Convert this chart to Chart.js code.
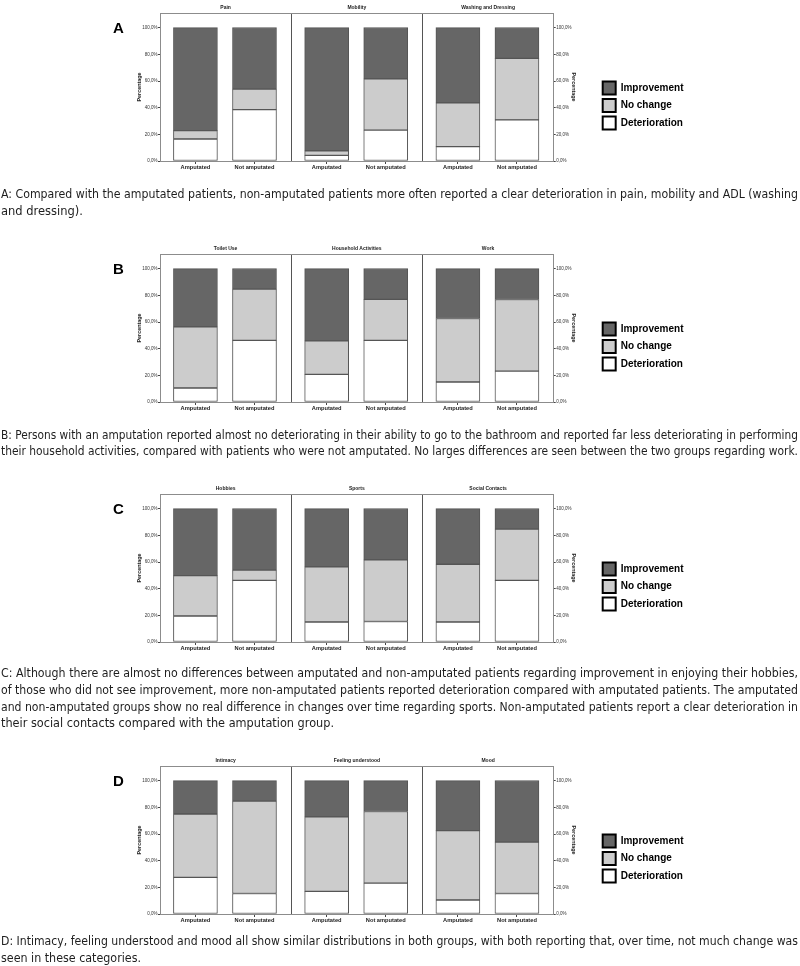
<!DOCTYPE html>
<html lang="en">
<head>
<meta charset="utf-8">
<title>Change over time: amputated vs not amputated patients</title>
<script src="https://cdn.jsdelivr.net/npm/chart.js@4.4.1/dist/chart.umd.min.js"></script>
<style>
  html, body { margin: 0; padding: 0; background: #fff; }
  body { position: relative; width: 800px; height: 966px; overflow: hidden; }
  .panel { position: absolute; left: 0; width: 800px; z-index: 1; }
  .letter { position: absolute; left: 113px; font: bold 15px "Liberation Sans", Arial, sans-serif; line-height: 15px; color: #000; z-index: 3; }
  .cap { position: absolute; left: 1px; white-space: nowrap; font: 12px "DejaVu Sans", Verdana, sans-serif; line-height: 14px; color: #1e1e1e; transform-origin: 0 50%; z-index: 2; }
</style>
</head>
<body>
<script>
// ---------------- data ----------------
const GROUPS = ['Amputated', 'Not amputated'];
const SERIES = ['Deterioration', 'No change', 'Improvement'];
const Y_TICKS = [0, 20, 40, 60, 80, 100];

// order inside each array: facet1 Amputated, facet1 Not amputated, facet2 ..., facet3 ...
const A_FACETS = ['Pain', 'Mobility', 'Washing and Dressing'];
const A_DETERIORATION = [16.5, 38.5, 4.2, 23.1, 10.8, 30.8];
const A_NO_CHANGE     = [6.3, 15.4, 3.5, 38.5, 32.8, 46.2];
const A_IMPROVEMENT   = [77.2, 46.2, 92.3, 38.5, 56.4, 23.1];

const B_FACETS = ['Toilet Use', 'Household Activities', 'Work'];
const B_DETERIORATION = [10.5, 46.2, 20.7, 46.2, 15.0, 23.1];
const B_NO_CHANGE     = [45.9, 38.5, 25.2, 30.8, 47.6, 53.8];
const B_IMPROVEMENT   = [43.6, 15.4, 54.1, 23.1, 37.4, 23.1];

const C_FACETS = ['Hobbies', 'Sports', 'Social Contacts'];
const C_DETERIORATION = [19.5, 46.2, 15.0, 15.4, 15.0, 46.2];
const C_NO_CHANGE     = [30.3, 7.7, 41.3, 46.2, 43.3, 38.5];
const C_IMPROVEMENT   = [50.2, 46.2, 43.7, 38.5, 41.7, 15.4];

const D_FACETS = ['Intimacy', 'Feeling understood', 'Mood'];
const D_DETERIORATION = [27.5, 15.4, 17.0, 23.1, 10.5, 15.4];
const D_NO_CHANGE     = [47.5, 69.2, 55.8, 53.8, 52.0, 38.5];
const D_IMPROVEMENT   = [25.0, 15.4, 27.2, 23.1, 37.5, 46.2];

const CAPTION_A = [
  'A: Compared with the amputated patients, non-amputated patients more often reported a clear deterioration in pain, mobility and ADL (washing',
  'and dressing).'
];
const CAPTION_B = [
  'B: Persons with an amputation reported almost no deteriorating in their ability to go to the bathroom and reported far less deteriorating in performing',
  'their household activities, compared with patients who were not amputated. No larges differences are seen between the two groups regarding work.'
];
const CAPTION_C = [
  'C: Although there are almost no differences between amputated and non-amputated patients regarding improvement in enjoying their hobbies,',
  'of those who did not see improvement, more non-amputated patients reported deterioration compared with amputated patients. The amputated',
  'and non-amputated groups show no real difference in changes over time regarding sports. Non-amputated patients report a clear deterioration in',
  'their social contacts compared with the amputation group.'
];
const CAPTION_D = [
  'D: Intimacy, feeling understood and mood all show similar distributions in both groups, with both reporting that, over time, not much change was',
  'seen in these categories.'
];

// ---------------- layout / style ----------------
const PANEL_TOPS = [13, 254, 494, 766];
const CAPTION_Y = [[194, 211], [435, 451], [673, 690, 707, 723], [941, 958]];
const CAPTION_W = [[797, 82], [797, 797], [797, 797, 797, 333], [797, 140]];
const BAR_OFFSETS = [0.27, 0.72];
const FILLS = ['#ffffff', '#cccccc', '#666666'];
const AREA_LEFT = 160, AREA_RIGHT = 554, CANVAS_H = 211, AREA_TOP = 13, AREA_BOTTOM = 161;
const FRAME = '#8c8c8c';

Chart.defaults.font.family = '"Liberation Sans", Arial, Helvetica, sans-serif';
Chart.defaults.color = '#222';

function near(a, b) { return Math.abs(a - b) < 1e-6; }
function groupAt(v) {
  const f = v - Math.floor(v);
  for (let g = 0; g < BAR_OFFSETS.length; g++) if (near(f, BAR_OFFSETS[g])) return g;
  return -1;
}
function pctLabel(v) { return Number(v).toFixed(1).replace('.', ',') + '%'; }

function build(idx, letter, facets, series) {
  const top = PANEL_TOPS[idx];
  const wrap = document.createElement('div');
  wrap.className = 'panel';
  wrap.style.top = (top - AREA_TOP) + 'px';
  wrap.style.height = CANVAS_H + 'px';
  const cv = document.createElement('canvas');
  cv.width = 800; cv.height = CANVAS_H;
  cv.style.width = '800px'; cv.style.height = CANVAS_H + 'px';
  wrap.appendChild(cv);
  document.body.appendChild(wrap);

  const L = document.createElement('div');
  L.className = 'letter';
  L.textContent = letter;
  L.style.top = (top + 7) + 'px';
  document.body.appendChild(L);

  const nF = facets.length;
  const xTicks = [];
  facets.forEach((f, k) => { xTicks.push(k, k + BAR_OFFSETS[0], k + BAR_OFFSETS[1]); });
  xTicks.push(nF);

  const datasets = series.map((vals, s) => ({
    label: SERIES[s],
    data: vals.map((v, i) => ({ x: Math.floor(i / 2) + BAR_OFFSETS[i % 2], y: v })),
    backgroundColor: FILLS[s],
    borderColor: '#555',
    borderWidth: 1,
    borderSkipped: false,
    barThickness: 44,
    stack: 'all'
  }));

  const yAxis = (pos) => ({
    type: 'linear', position: pos, min: 0, max: 111, stacked: pos === 'left',
    afterBuildTicks: s => { s.ticks = Y_TICKS.map(v => ({ value: v })); },
    afterFit: s => { s.width = pos === 'left' ? 30 : 44.5; },
    ticks: { callback: pctLabel, font: { size: 4.5 }, padding: 0.5, color: '#333' },
    grid: { drawOnChartArea: false, tickLength: 2, color: '#444' },
    border: { color: FRAME, width: 1 },
    title: {
      display: true, text: 'Percentage', color: '#222',
      font: { size: 5.4, weight: 'bold' },
      padding: pos === 'left' ? { top: 6.2, bottom: 0 } : { top: 21.2, bottom: 0 }
    }
  });

  const chart = new Chart(cv, {
    type: 'bar',
    data: { datasets },
    options: {
      responsive: false,
      animation: false,
      events: [],
      layout: { padding: { left: 130, right: 110, top: 0, bottom: 0 } },
      scales: {
        x: {
          type: 'linear', position: 'bottom', min: 0, max: nF, offset: false,
          afterBuildTicks: s => { s.ticks = xTicks.map(v => ({ value: v })); },
          afterFit: s => { s.height = CANVAS_H - AREA_BOTTOM; },
          ticks: {
            autoSkip: false, maxRotation: 0, minRotation: 0, padding: 0.5,
            font: { size: 5.7, weight: 'bold' }, color: '#222',
            callback: v => { const g = groupAt(v); return g < 0 ? '' : GROUPS[g]; }
          },
          grid: {
            offset: false, lineWidth: 1, tickLength: 3,
            color: c => (c.tick && c.tick.value > 0 && c.tick.value < nF && near(c.tick.value, Math.round(c.tick.value))) ? '#555' : 'rgba(0,0,0,0)',
            tickColor: c => (c.tick && groupAt(c.tick.value) >= 0) ? '#444' : 'rgba(0,0,0,0)'
          },
          border: { color: FRAME, width: 1 }
        },
        x2: {
          type: 'linear', position: 'top', min: 0, max: nF, offset: false,
          afterBuildTicks: s => { s.ticks = facets.map((f, k) => ({ value: k + 0.5 })); },
          afterFit: s => { s.height = AREA_TOP; },
          ticks: {
            autoSkip: false, maxRotation: 0, minRotation: 0, padding: 2.5,
            font: { size: 5, weight: 'bold' }, color: '#222',
            callback: v => facets[Math.floor(v)]
          },
          grid: { display: false, drawTicks: false, offset: false },
          border: { display: true, color: FRAME, width: 1 }
        },
        y: yAxis('left'),
        y2: yAxis('right')
      },
      plugins: {
        tooltip: { enabled: false },
        title: { display: false },
        legend: {
          position: 'right', align: 'center', reverse: true,
          labels: {
            boxWidth: 13, boxHeight: 13, padding: 4.5, color: '#000',
            font: { size: 10, weight: 'bold' },
            generateLabels: ch => Chart.defaults.plugins.legend.labels.generateLabels(ch).map(it =>
              Object.assign(it, { fillStyle: FILLS[it.datasetIndex], strokeStyle: '#000', lineWidth: 2 }))
          }
        }
      }
    }
  });

  // align the plot area with the reference frame
  const pad = chart.options.layout.padding;
  pad.left += AREA_LEFT - chart.chartArea.left;
  pad.right += chart.chartArea.right - AREA_RIGHT;
  chart.update();
  return chart;
}

build(0, 'A', A_FACETS, [A_DETERIORATION, A_NO_CHANGE, A_IMPROVEMENT]);
build(1, 'B', B_FACETS, [B_DETERIORATION, B_NO_CHANGE, B_IMPROVEMENT]);
build(2, 'C', C_FACETS, [C_DETERIORATION, C_NO_CHANGE, C_IMPROVEMENT]);
build(3, 'D', D_FACETS, [D_DETERIORATION, D_NO_CHANGE, D_IMPROVEMENT]);

[CAPTION_A, CAPTION_B, CAPTION_C, CAPTION_D].forEach((lines, p) => {
  lines.forEach((txt, j) => {
    const el = document.createElement('div');
    el.className = 'cap';
    el.textContent = txt;
    el.style.top = (CAPTION_Y[p][j] - 7) + 'px';
    document.body.appendChild(el);
    const w = el.getBoundingClientRect().width;
    el.style.transform = 'scaleX(' + (CAPTION_W[p][j] / w).toFixed(4) + ')';
  });
});
</script>
</body>
</html>
